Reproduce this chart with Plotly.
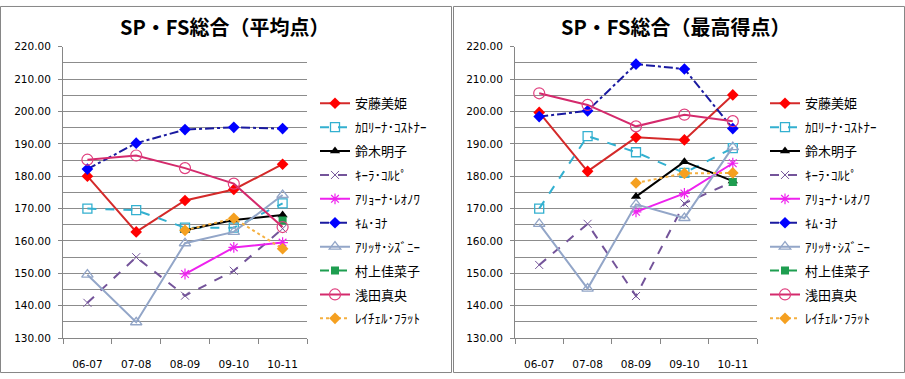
import plotly.graph_objects as go

W, H = 905, 379

categories = ["06-07", "07-08", "08-09", "09-10", "10-11"]

names = ["安藤美姫", "ｶﾛﾘｰﾅ･ｺｽﾄﾅｰ", "鈴木明子", "ｷｰﾗ･ｺﾙﾋﾟ", "ｱﾘｮｰﾅ･ﾚｵﾉﾜ",
         "ｷﾑ･ﾖﾅ", "ｱﾘｯｻ･ｼｽﾞﾆｰ", "村上佳菜子", "浅田真央", "ﾚｲﾁｪﾙ･ﾌﾗｯﾄ"]

# 平均点
avg_ando = [180.0, 162.8, 172.5, 175.9, 183.7]
avg_kostner = [170.0, 169.5, 164.1, 164.1, 171.6]
avg_suzuki = [None, None, 163.3, 166.5, 168.0]
avg_korpi = [140.9, 155.0, 143.1, 150.8, 163.8]
avg_leonova = [None, None, 149.8, 158.0, 159.5]
avg_kim = [182.2, 190.2, 194.4, 195.1, 194.7]
avg_czisny = [149.6, 134.9, 159.3, 162.8, 174.2]
avg_murakami = [None, None, None, None, 166.3]
avg_asada = [185.1, 186.4, 182.5, 177.7, 164.3]
avg_flatt = [None, None, 163.3, 167.0, 157.6]

# 最高得点
max_ando = [199.7, 181.5, 192.0, 191.2, 205.1]
max_kostner = [170.0, 192.4, 187.4, 181.0, 188.7]
max_suzuki = [None, None, 173.7, 184.5, 178.5]
max_korpi = [152.6, 165.3, 143.0, 171.6, 178.3]
max_leonova = [None, None, 169.0, 174.7, 184.0]
max_kim = [198.4, 200.2, 214.6, 213.1, 194.7]
max_czisny = [165.3, 145.3, 171.3, 167.1, 189.0]
max_murakami = [None, None, None, None, 178.2]
max_asada = [205.6, 202.0, 195.4, 199.0, 197.0]
max_flatt = [None, None, 177.9, 180.9, 181.0]

y_major = [130, 140, 150, 160, 170, 180, 190, 200, 210, 220]
y_labels = ["130.00", "140.00", "150.00", "160.00", "170.00", "180.00",
            "190.00", "200.00", "210.00", "220.00"]

styles = [
    dict(line=dict(color="#D42A2A", width=2, dash="solid"),
         marker=dict(symbol="diamond", size=9, color="#FF0000")),
    dict(line=dict(color="#33B0D0", width=2, dash="dash"),
         marker=dict(symbol="square-open", size=9, color="#33B0D0", line=dict(width=1.3))),
    dict(line=dict(color="#000000", width=2, dash="solid"),
         marker=dict(symbol="triangle-up", size=9, color="#000000")),
    dict(line=dict(color="#74549A", width=2, dash="dash"),
         marker=dict(symbol="x-thin-open", size=8, color="#74549A", line=dict(width=1))),
    dict(line=dict(color="#EE22EE", width=2, dash="solid"),
         marker=dict(symbol="asterisk-open", size=9, color="#EE22EE", line=dict(width=1.2))),
    dict(line=dict(color="#1A1AA0", width=2, dash="dashdot"),
         marker=dict(symbol="diamond", size=9, color="#0000FF")),
    dict(line=dict(color="#93A6C8", width=2, dash="solid"),
         marker=dict(symbol="triangle-up-open", size=10, color="#93A6C8", line=dict(width=1.3))),
    dict(line=dict(color="#1E9E50", width=2, dash="dashdot"),
         marker=dict(symbol="square", size=8, color="#1E9E50")),
    dict(line=dict(color="#D42A6C", width=2, dash="solid"),
         marker=dict(symbol="circle-open", size=11, color="#E0407F", line=dict(width=1.2))),
    dict(line=dict(color="#F5B040", width=2, dash="dot"),
         marker=dict(symbol="diamond", size=9, color="#F5A020")),
]

avg_series = [avg_ando, avg_kostner, avg_suzuki, avg_korpi, avg_leonova,
              avg_kim, avg_czisny, avg_murakami, avg_asada, avg_flatt]
max_series = [max_ando, max_kostner, max_suzuki, max_korpi, max_leonova,
              max_kim, max_czisny, max_murakami, max_asada, max_flatt]

fig = go.Figure()
for i, (nm, ys) in enumerate(zip(names, avg_series)):
    fig.add_trace(go.Scatter(x=categories, y=ys, name=nm, mode="lines+markers",
                             xaxis="x", yaxis="y", legend="legend",
                             legendgroup="a%d" % i, connectgaps=False, **styles[i]))
for i, (nm, ys) in enumerate(zip(names, max_series)):
    fig.add_trace(go.Scatter(x=categories, y=ys, name=nm, mode="lines+markers",
                             xaxis="x2", yaxis="y2", legend="legend2",
                             legendgroup="b%d" % i, connectgaps=False, **styles[i]))

def px(x):
    return x / W

def py(y):
    return 1 - y / H

tickfont = dict(family="DejaVu Sans", size=10.5, color="#000000")
yax = dict(range=[130, 220], tickvals=y_major, ticktext=y_labels, tickmode="array",
           showgrid=True, gridcolor="#8C8C8C", gridwidth=1,
           minor=dict(tickvals=[135, 145, 155, 165, 175, 185, 195, 205, 215],
                      showgrid=True, gridcolor="#8C8C8C", gridwidth=1),
           showline=True, linecolor="#868686", linewidth=1,
           ticks="outside", ticklen=4, tickcolor="#868686", ticklabelstandoff=5,
           tickfont=tickfont, zeroline=False, fixedrange=True)
xax = dict(type="category", showgrid=False, showline=True, linecolor="#868686",
           linewidth=1, ticks="outside", ticklen=5, tickcolor="#868686",
           tickson="boundaries", tickfont=tickfont, ticklabelstandoff=16,
           fixedrange=True, range=[-0.5, 4.5])

legend_common = dict(font=dict(family="Noto Sans CJK JP", size=13, color="#000000"),
                     bgcolor="rgba(0,0,0,0)", tracegroupgap=4, itemwidth=30,
                     yanchor="top", xanchor="left")

fig.update_layout(
    width=W, height=H,
    margin=dict(l=0, r=0, t=0, b=0),
    paper_bgcolor="white", plot_bgcolor="white",
    xaxis=dict(domain=[px(63), px(307)], anchor="y", **xax),
    yaxis=dict(domain=[py(343), py(42)], anchor="x", **yax),
    xaxis2=dict(domain=[px(515), px(757)], anchor="y2", **xax),
    yaxis2=dict(domain=[py(343), py(42)], anchor="x2", **yax),
    legend=dict(x=px(315), y=py(85), **legend_common),
    legend2=dict(x=px(765), y=py(85), **legend_common),
    showlegend=True,
    annotations=[
        dict(text="<b>SP・FS総合（平均点）</b>", x=px(224), y=py(21), xref="paper", yref="paper",
             showarrow=False, xanchor="center", yanchor="middle",
             font=dict(family="Noto Sans CJK JP", size=20, color="#000000")),
        dict(text="<b>SP・FS総合（最高得点）</b>", x=px(675), y=py(21), xref="paper", yref="paper",
             showarrow=False, xanchor="center", yanchor="middle",
             font=dict(family="Noto Sans CJK JP", size=20, color="#000000")),
    ],
    shapes=[
        dict(type="rect", xref="paper", yref="paper", x0=px(0.5), x1=px(451.5),
             y0=py(378.5), y1=py(0.5), line=dict(color="#868686", width=1)),
        dict(type="rect", xref="paper", yref="paper", x0=px(453.5), x1=px(904.5),
             y0=py(378.5), y1=py(0.5), line=dict(color="#868686", width=1)),
    ],
)

fig.write_html("out.html", config={"displayModeBar": False},
               post_script="document.body.style.margin='0';document.body.style.padding='0';"
                           "document.body.style.overflow='hidden';")
